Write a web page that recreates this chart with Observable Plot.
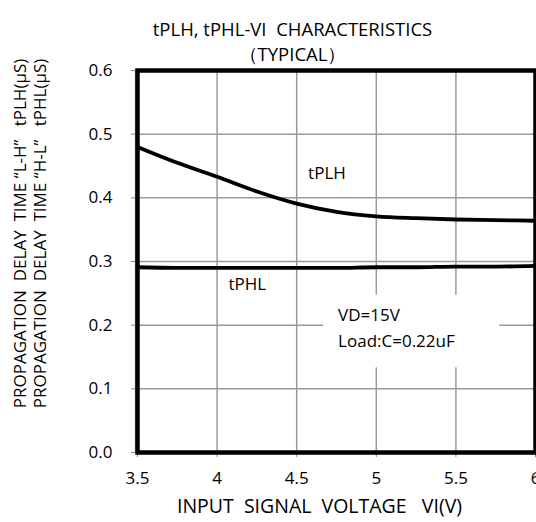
<!DOCTYPE html>
<html>
<head>
<meta charset="utf-8">
<script src="https://cdn.jsdelivr.net/npm/d3@7"></script>
<script src="https://cdn.jsdelivr.net/npm/@observablehq/plot@0.6"></script>
<style>
html,body{margin:0;padding:0;background:#fff;}
#chart svg{display:block;}
#chart text{white-space:pre;}
</style>
</head>
<body>
<div id="chart"></div>
<script>
// Data
const voltage = [3.5, 3.75, 4.0, 4.25, 4.5, 4.75, 5.0, 5.25, 5.5, 5.75, 6.0];
const tPLH    = [0.480, 0.455, 0.433, 0.410, 0.391, 0.378, 0.371, 0.368, 0.366, 0.365, 0.364];
const tPHL    = [0.291, 0.290, 0.290, 0.290, 0.290, 0.290, 0.291, 0.291, 0.292, 0.292, 0.293];
const xTicks = [3.5, 4, 4.5, 5, 5.5, 6];
const yTicks = [0, 0.1, 0.2, 0.3, 0.4, 0.5, 0.6];
const xTickLabels = ["3.5", "4", "4.5", "5", "5.5", "6"];
const yTickLabels = ["0.0", "0.1", "0.2", "0.3", "0.4", "0.5", "0.6"];
const curveLabels = [
  {x: 4.69, y: 0.438, text: "tPLH"},
  {x: 4.19, y: 0.264, text: "tPHL"}
];
const noteBox = [{x1: 4.669, x2: 5.775, y1: 0.133, y2: 0.247}];
const noteLines = [
  {x: 4.76, y: 0.215, text: "VD=15V"},
  {x: 4.76, y: 0.174, text: "Load:C=0.22uF"}
];
const titleLines = ["tPLH, tPHL-VI  CHARACTERISTICS", "（TYPICAL）"];
const yLabelLines = ["PROPAGATION  DELAY  TIME \u201CL-H\u201D   tPLH(\u03BCS)", "PROPAGATION  DELAY  TIME \u201CH-L\u201D   tPHL(\u03BCS)"];
const xLabel = "INPUT  SIGNAL  VOLTAGE   VI(V)";

const rows = voltage.map((v, i) => ({v, plh: tPLH[i], phl: tPHL[i]}));
const font = "'Open Sans', sans-serif";
const xFmt = d => xTickLabels[xTicks.indexOf(d)];
const yFmt = d => yTickLabels[yTicks.findIndex(t => Math.abs(t - d) < 1e-9)];

const chart = Plot.plot({
  width: 536,
  height: 522,
  marginLeft: 137,
  marginRight: 1,
  marginTop: 70,
  marginBottom: 70,
  style: {fontFamily: font, fontSize: "16px", color: "#000", background: "#fff"},
  x: {domain: [3.5, 6]},
  y: {domain: [0, 0.6]},
  marks: [
    Plot.gridX(xTicks.slice(1, -1), {stroke: "#9a9a9a", strokeOpacity: 1, strokeWidth: 1.5}),
    Plot.gridY(yTicks.slice(1, -1), {stroke: "#9a9a9a", strokeOpacity: 1, strokeWidth: 1.5}),
    Plot.rect(noteBox, {x1: "x1", x2: "x2", y1: "y1", y2: "y2", fill: "white"}),
    Plot.axisY(yTicks, {tickSize: 6, tickPadding: 19, stroke: "#888", fontSize: 17, fill: "#000", tickFormat: yFmt, label: null}),
    Plot.axisX(xTicks, {tickSize: 5, tickPadding: 14, stroke: "#888", fontSize: 17, fill: "#000", tickFormat: xFmt, label: null}),
    Plot.ruleX([3.5], {stroke: "#a6a6a6", strokeWidth: 1.5, dx: -2}),
    Plot.line(rows, {x: "v", y: "plh", stroke: "black", strokeWidth: 3.8, curve: "monotone-x"}),
    Plot.line(rows, {x: "v", y: "phl", stroke: "black", strokeWidth: 3.8, curve: "monotone-x"}),
    Plot.frame({stroke: "black", strokeWidth: 4.5}),
    Plot.text(curveLabels, {x: "x", y: "y", text: "text", fontSize: 17, fill: "#000"}),
    Plot.text(noteLines, {x: "x", y: "y", text: "text", textAnchor: "start", fontSize: 17, fill: "#000"}),
    Plot.text([titleLines[0]], {frameAnchor: "top", dy: -48, dx: -44, fontSize: 18.5, fill: "#000"}),
    Plot.text([titleLines[1]], {frameAnchor: "top", dy: -23, dx: -44, fontSize: 18.5, fill: "#000"}),
    Plot.text([yLabelLines[0]], {frameAnchor: "left", textAnchor: "middle", rotate: -90, dx: -117, dy: -28, fontSize: 17, fill: "#000"}),
    Plot.text([yLabelLines[1]], {frameAnchor: "left", textAnchor: "middle", rotate: -90, dx: -97, dy: -28, fontSize: 17, fill: "#000"}),
    Plot.text([xLabel], {frameAnchor: "bottom", dy: 60, dx: -17, fontSize: 19.5, fill: "#000"})
  ]
});
document.getElementById("chart").appendChild(chart);
</script>
</body>
</html>
